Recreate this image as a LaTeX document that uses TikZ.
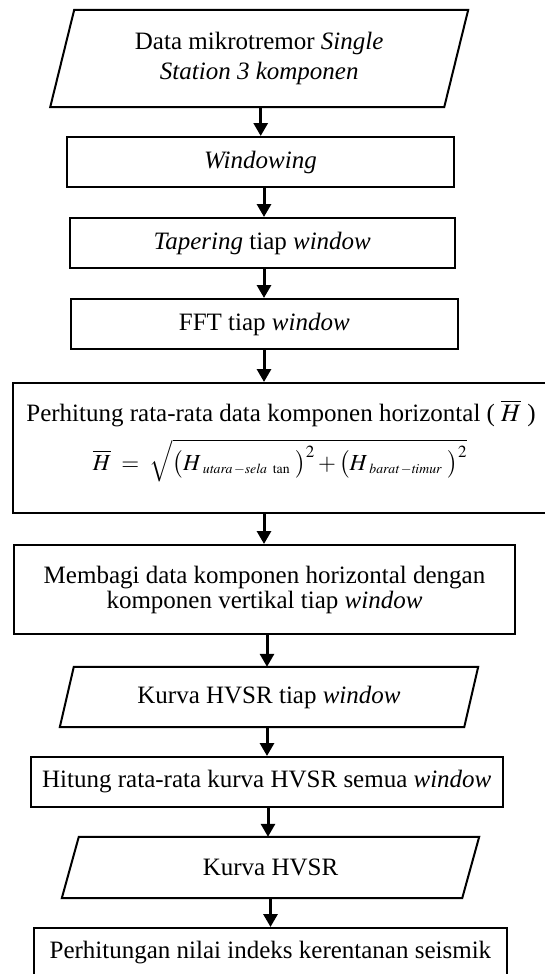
\documentclass[tikz,border=0pt]{standalone}
\usepackage{mathptmx}
\usepackage[no-math]{fontspec}
\setmainfont{Liberation Serif}
\usetikzlibrary{arrows.meta}
\begin{document}
\begin{tikzpicture}[x=1pt,y=-1pt,
  frame/.style={draw=black, line width=2pt, line join=miter},
  box/.style={frame, rectangle, inner sep=0pt, align=center,
    font=\fontsize{25}{30}\selectfont},
  iobox/.style={rectangle, inner sep=0pt, align=center,
    font=\fontsize{25}{30}\selectfont},
  arr/.style={line width=3pt, -{Triangle[length=13pt,width=14pt]}},
]
\useasboundingbox (0,0) rectangle (545,974);

% x positions of the connectors
\coordinate (a1) at (260.7,0);
\coordinate (a2) at (264,0);
\coordinate (a3) at (264,0);
\coordinate (a4) at (264,0);
\coordinate (a5) at (264,0);
\coordinate (a6) at (267,0);
\coordinate (a7) at (267,0);
\coordinate (a8) at (268,0);
\coordinate (a9) at (270.5,0);

% input data
\node[iobox, minimum width=417.6pt, minimum height=97pt] (data) at (259.2,58.5)
  {Data mikrotremor \textit{Single}\\\textit{Station 3 komponen}};
\draw[frame] ([xshift=24pt]data.north west) -- (data.north east)
  -- ([xshift=-24pt]data.south east) -- (data.south west) -- cycle;

\node[box, minimum width=387pt, minimum height=50pt] (win) at (260.5,162)
  {\textit{Windowing}};
\node[box, minimum width=385.5pt, minimum height=50pt] (tap) at (262.3,243)
  {\textit{Tapering} tiap \textit{window}};
\node[box, minimum width=387.4pt, minimum height=50pt] (fft) at (264.3,324)
  {FFT tiap \textit{window}};

% horizontal average
\node[box, minimum width=536pt, minimum height=130pt] (hbar) at (281,448) {};
\node[inner sep=0pt, anchor=base, font=\fontsize{25}{30}\selectfont] (hbarlabel) at (281,421)
  {Perhitung rata-rata data komponen horizontal ( $\overline{H}$ )};
\node[inner sep=0pt, anchor=base, font=\fontsize{23}{30}\selectfont] (hbarformula) at (280,470)
  {$\overline{H}\;=\;\sqrt{\bigl(H_{\;\scriptscriptstyle \mathit{utara}\,-\mathit{sela}\ \mathrm{tan}}\;\bigr)^{2}
   + \bigl(H_{\;\scriptscriptstyle \mathit{barat}\,-\mathit{timur}}\;\bigr)^{2}}$};

\node[box, minimum width=501pt, minimum height=89pt,
  font=\fontsize{25}{25}\selectfont] (div) at (264.5,589.5)
  {Membagi data komponen horizontal dengan\\komponen vertikal tiap \textit{window}};

\node[iobox, minimum width=418pt, minimum height=60pt] (hvw) at (269,697)
  {Kurva HVSR tiap \textit{window}};
\draw[frame] ([xshift=14pt]hvw.north west) -- (hvw.north east)
  -- ([xshift=-14pt]hvw.south east) -- (hvw.south west) -- cycle;

\node[box, minimum width=472.4pt, minimum height=50pt] (avg) at (266.8,782)
  {Hitung rata-rata kurva HVSR semua \textit{window}};

\node[iobox, minimum width=417pt, minimum height=61pt] (hv) at (270.5,867.5)
  {Kurva HVSR};
\draw[frame] ([xshift=17pt]hv.north west) -- (hv.north east)
  -- ([xshift=-17pt]hv.south east) -- (hv.south west) -- cycle;

\node[box, minimum width=473.3pt, minimum height=50pt] (vi) at (270.4,953)
  {Perhitungan nilai indeks kerentanan seismik};

% connectors
\draw[arr] (data.south -| a1) -- (win.north -| a1);
\draw[arr] (win.south -| a2) -- (tap.north -| a2);
\draw[arr] (tap.south -| a3) -- (fft.north -| a3);
\draw[arr] (fft.south -| a4) -- (hbar.north -| a4);
\draw[arr] (hbar.south -| a5) -- (div.north -| a5);
\draw[arr] (div.south -| a6) -- (hvw.north -| a6);
\draw[arr] (hvw.south -| a7) -- (avg.north -| a7);
\draw[arr] (avg.south -| a8) -- (hv.north -| a8);
\draw[arr] (hv.south -| a9) -- (vi.north -| a9);
\end{tikzpicture}
\end{document}
